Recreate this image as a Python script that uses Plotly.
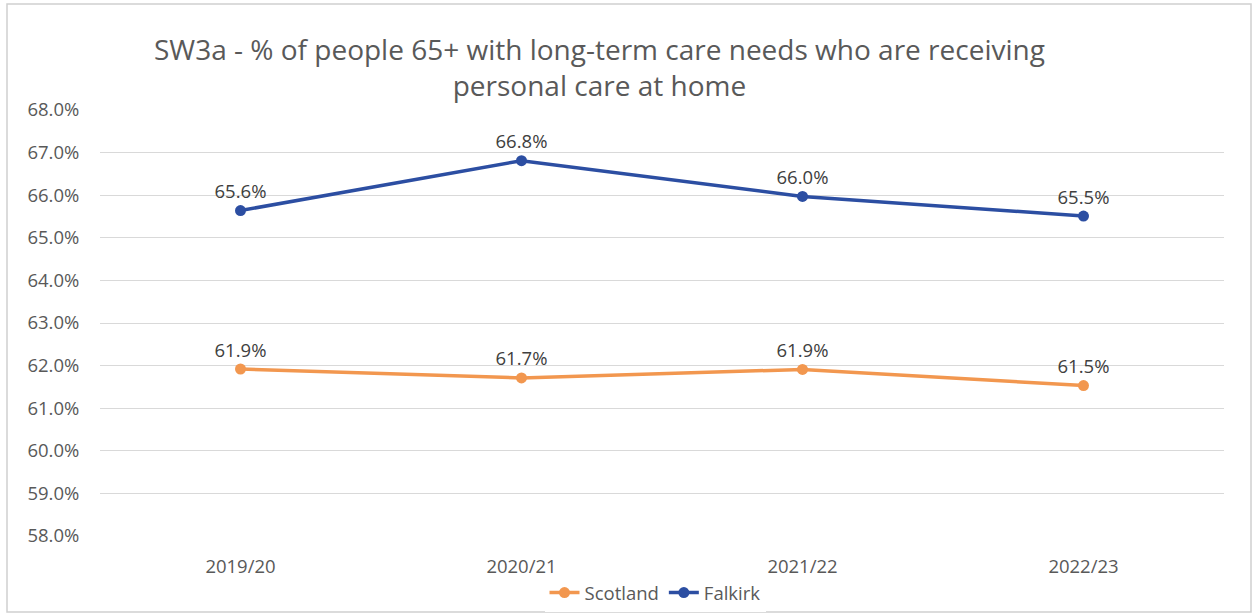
import plotly.graph_objects as go

categories = ["2019/20", "2020/21", "2021/22", "2022/23"]
scotland = [61.92, 61.71, 61.91, 61.53]
falkirk = [65.64, 66.81, 65.97, 65.51]
y_ticks = [58, 59, 60, 61, 62, 63, 64, 65, 66, 67, 68]
y_tick_labels = [f"{v:.1f}%" for v in y_ticks]

W, H = 1254, 615
L, R, T, B = 100, 30, 110, 79
pw, ph = W - L - R, H - T - B

def px(x):
    return (x - L) / pw

def py(y):
    return (H - B - y) / ph

FONT = "Open Sans"
c_sc = "#F2974F"
c_fk = "#2C4EA2"
FS = 18.5

fig = go.Figure()
fig.add_trace(go.Scatter(
    x=categories, y=scotland, name="Scotland", mode="lines+markers+text",
    line=dict(color=c_sc, width=3.5), marker=dict(size=11, color=c_sc),
    texttemplate="%{y:.1f}%", textposition="top center",
    textfont=dict(family=FONT, size=FS, color="#404040"),
))
fig.add_trace(go.Scatter(
    x=categories, y=falkirk, name="Falkirk", mode="lines+markers+text",
    line=dict(color=c_fk, width=3.5), marker=dict(size=11, color=c_fk),
    texttemplate="%{y:.1f}%", textposition="top center",
    textfont=dict(family=FONT, size=FS, color="#404040"),
))

fig.update_layout(
    width=W, height=H,
    margin=dict(l=L, r=R, t=T, b=B, autoexpand=False),
    paper_bgcolor="white", plot_bgcolor="white",
    font=dict(family=FONT, color="#595959"),
    showlegend=True,
    legend=dict(orientation="h", x=px(655), xanchor="center", y=py(593), yanchor="middle",
                font=dict(family=FONT, size=FS, color="#595959"), traceorder="normal",
                itemwidth=30, tracegroupgap=0),
    xaxis=dict(type="category", range=[-0.5, 3.5], showgrid=False, showline=False,
               ticks="outside", ticklen=14, tickcolor="rgba(0,0,0,0)",
               tickfont=dict(family=FONT, size=FS, color="#595959"), automargin=False),
    yaxis=dict(range=[58, 68], tickvals=y_ticks, ticktext=y_tick_labels,
               showgrid=True, gridcolor="#D9D9D9", gridwidth=1, zeroline=False,
               showline=False, ticks="outside", ticklen=16, tickcolor="rgba(0,0,0,0)",
               tickfont=dict(family=FONT, size=FS, color="#595959"), automargin=False),
    annotations=[dict(
        text="SW3a - % of people 65+ with long-term care needs who are receiving<br>personal care at home",
        x=px(599), y=py(67), xref="paper", yref="paper", xanchor="center", yanchor="middle",
        showarrow=False, align="center",
        font=dict(family=FONT, size=28, color="#595959"),
    )],
    shapes=[dict(type="rect", xref="paper", yref="paper",
                 x0=px(7), x1=px(1251), y0=py(612), y1=py(4),
                 line=dict(color="#D0D0D0", width=1.5), fillcolor="rgba(0,0,0,0)", layer="below")],
)

fig.write_html("out.html")
